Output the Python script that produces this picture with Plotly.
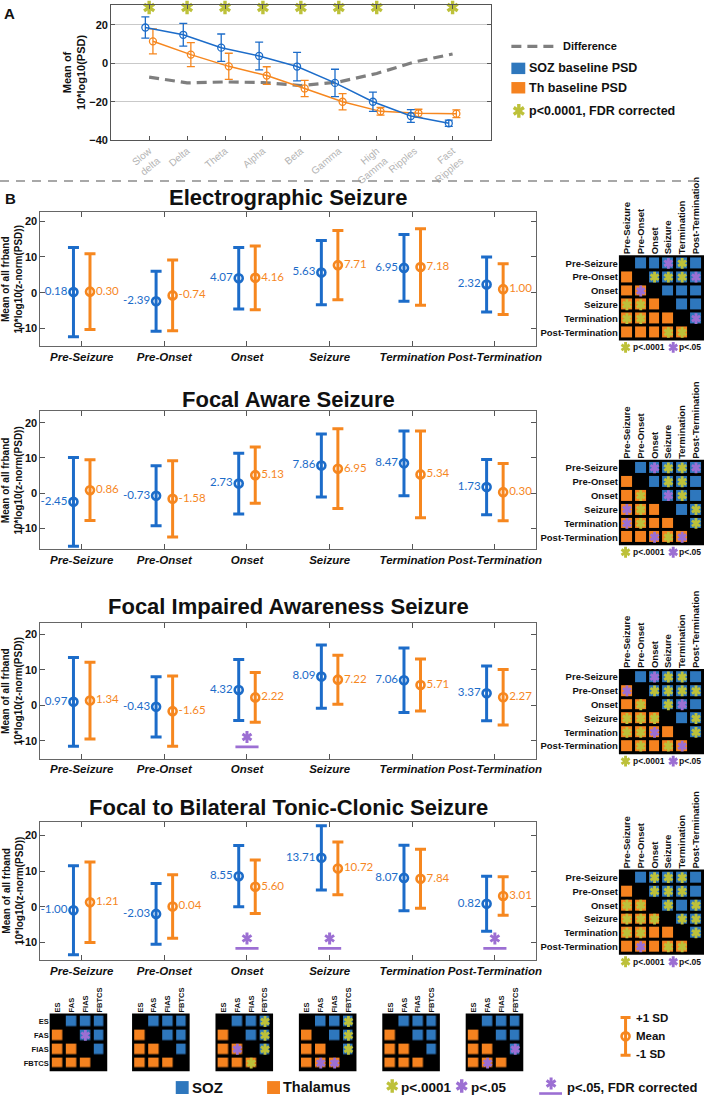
import plotly.graph_objects as go

W, H = 709, 1103

# ---------------- Panel A data ----------------
band_labels = ["Slow<br>delta", "Delta", "Theta", "Alpha", "Beta", "Gamma",
               "High<br>Gamma", "Ripples", "Fast<br>Ripples"]
soz_baseline_mean = [18.6, 14.8, 8.1, 3.8, -1.7, -10.2, -20.0, -27.4, -31.2]
soz_baseline_sd = [5.5, 5.9, 7.1, 7.2, 7.4, 7.1, 5.0, 3.3, 1.6]
th_baseline_mean = [11.4, 4.5, -1.6, -6.4, -13.1, -20.0, -25.0, -26.0, -26.2]
th_baseline_sd = [6.5, 6.2, 6.8, 4.6, 4.2, 4.2, 2.0, 2.1, 2.0]
baseline_difference = [-7.2, -10.2, -9.7, -10.0, -11.6, -9.7, -5.3, 0.7, 4.8]
band_fdr_sig = [1, 1, 1, 1, 1, 1, 1, 0, 1]

# ---------------- Panel B data ----------------
phases = ["Pre-Seizure", "Pre-Onset", "Onset", "Seizure", "Termination", "Post-Termination"]
seizure_titles = ["Electrographic Seizure", "Focal Aware Seizure",
                  "Focal Impaired Awareness Seizure", "Focal to Bilateral Tonic-Clonic Seizure"]

soz_mean_es = [0.18, -2.39, 4.07, 5.63, 6.95, 2.32]
soz_sd_es = [12.5, 8.4, 8.6, 9.0, 9.3, 7.7]
th_mean_es = [0.30, -0.74, 4.16, 7.71, 7.18, 1.00]
th_sd_es = [10.6, 9.9, 8.9, 9.7, 10.7, 7.1]

soz_mean_fas = [-2.45, -0.73, 2.73, 7.86, 8.47, 1.73]
soz_sd_fas = [12.6, 8.5, 8.6, 8.9, 9.2, 7.8]
th_mean_fas = [0.86, -1.58, 5.13, 6.95, 5.34, 0.30]
th_sd_fas = [8.6, 10.8, 8.0, 11.3, 12.3, 8.1]

soz_mean_fias = [0.97, -0.43, 4.32, 8.09, 7.06, 3.37]
soz_sd_fias = [12.5, 8.5, 8.6, 8.9, 9.1, 7.7]
th_mean_fias = [1.34, -1.65, 2.22, 7.22, 5.71, 2.27]
th_sd_fias = [10.8, 9.9, 7.0, 6.9, 7.3, 7.8]

soz_mean_fbtcs = [-1.00, -2.03, 8.55, 13.71, 8.07, 0.82]
soz_sd_fbtcs = [12.5, 8.5, 8.6, 9.0, 9.2, 7.7]
th_mean_fbtcs = [1.21, 0.04, 5.60, 10.72, 7.84, 3.01]
th_sd_fbtcs = [11.3, 8.9, 7.5, 7.4, 8.3, 5.4]

fdr_sig_es = []
fdr_sig_fas = []
fdr_sig_fias = ["Onset"]
fdr_sig_fbtcs = ["Onset", "Seizure", "Post-Termination"]

# Pairwise comparison matrices: upper triangle = SOZ (B), lower = Thalamus (O),
# '.' diagonal, suffix '*' = p<.0001, '+' = p<.05
phase_matrix_es = [". B B B+ B* B", "O . B* B* B* B+", "O O+ . B B B",
                   "O* O* O . B B", "O* O* O O . B+", "O O O O* O* ."]
phase_matrix_fas = [". B B+ B* B* B+", "O . B B* B* B", "O O* . B+ B* B",
                    "O+ O* O . B B*", "O+ O* O O . B*", "O O O+ O* O+ ."]
phase_matrix_fias = [". B B+ B* B* B", "O+ . B* B* B* B*", "O O* . B* B+ B",
                     "O* O* O* . B B*", "O* O* O+ O . B*", "O O* O O* O+ ."]
phase_matrix_fbtcs = [". B B* B* B* B", "O . B* B* B* B", "O* O* . B* B B*",
                      "O* O* O* . B* B*", "O* O* O O . B*", "O O+ O O* O* ."]

type_labels = ["ES", "FAS", "FIAS", "FBTCS"]
type_matrix_pre_seizure = [". B B B", "O . B+ B", "O O . B", "O O O ."]
type_matrix_pre_onset = [". B B B", "O . B B", "O O . B", "O O O ."]
type_matrix_onset = [". B B B*", "O . B B*", "O O+ . B*", "O O O* ."]
type_matrix_seizure = [". B B B*", "O . B B*", "O O . B*", "O O+ O+ ."]
type_matrix_termination = [". B B B", "O . B B", "O O . B", "O O O ."]
type_matrix_post_termination = [". B B B", "O . B B", "O O . B+", "O O+ O ."]

# ---------------- styles / layout constants ----------------
BLUE = '#1c6cc9'
ORANGE = '#f6871f'
SQ_BLUE = '#2e77bd'
SQ_ORANGE = '#f5821f'
YEL = '#bdc13a'
PUR = '#9c6fd3'
FONT = 'Liberation Sans, Arial, sans-serif'

A_X = (112, 494)
A_Y = (5, 141)
B_X = (40.7, 540)
B_Y = [(212.7, 348.3), (413.3, 552.3), (626.7, 762.7), (826, 965)]
B_YR = [(-15, 22.7), (-15.9, 23.3), (-15, 23.1), (-14.9, 23.9)]
TITLE_Y = [199, 402, 610, 812]
M6_X = (623.3, 709)
M6_Y = [(256.7, 342.3), (462.3, 548.3), (672.7, 758.3), (874.3, 960)]
M4_CX = [79, 162, 246, 330, 414, 498]
M4_HALF = 29
M4_Y = (1019, 1077)

STAR_BIG = (8.5, 3.4)     # size, line width
STAR_CELL = (6.8, 2.9)
STAR_FDR = (7.5, 3.0)


def dom_x(a, b):
    return [a / W, b / W]


def dom_y(top, bot):
    return [1 - bot / H, 1 - top / H]


fig = go.Figure()
lay = dict(width=W, height=H, margin=dict(l=0, r=0, t=0, b=0),
           paper_bgcolor='white', plot_bgcolor='rgba(0,0,0,0)', showlegend=False,
           font=dict(family=FONT, color='#111111'))
shapes = []
annos = []


def ref(i):
    return '' if i == 1 else str(i)


def add_star(xs, ys, color, style, ax):
    size, lw = style
    for sym in ('y-up', 'y-down'):
        fig.add_trace(go.Scatter(
            x=xs, y=ys, mode='markers', xaxis='x' + ref(ax), yaxis='y' + ref(ax),
            marker=dict(symbol=sym, size=size, color=color, line=dict(color=color, width=lw)),
            hoverinfo='skip', cliponaxis=False))


OV = 16  # overlay axis in pixel units


def text(x, y, s, size=11, color='#111', xanchor='left', bold=True, family=FONT, angle=0):
    annos.append(dict(x=x, y=y, xref='x16', yref='y16', text=s, showarrow=False,
                      xanchor=xanchor, yanchor='middle', textangle=angle, borderpad=0,
                      font=dict(size=size, color=color, family=family,
                                weight='bold' if bold else 'normal')))


# ================= Panel A =================
xs_band = list(range(1, len(band_labels) + 1))
fig.add_trace(go.Scatter(x=xs_band, y=baseline_difference, mode='lines', xaxis='x', yaxis='y',
                         line=dict(color='#7f7f7f', width=3.2, dash='10px,6px'), hoverinfo='skip'))
fig.add_trace(go.Scatter(x=[v + 0.1 for v in xs_band], y=th_baseline_mean, mode='lines+markers',
                         xaxis='x', yaxis='y', line=dict(color=ORANGE, width=1.5),
                         marker=dict(symbol='circle-open', size=7, color=ORANGE, line=dict(width=1.3, color=ORANGE)),
                         error_y=dict(type='data', array=th_baseline_sd, color=ORANGE, thickness=1.3, width=4),
                         hoverinfo='skip'))
fig.add_trace(go.Scatter(x=[v - 0.1 for v in xs_band], y=soz_baseline_mean, mode='lines+markers',
                         xaxis='x', yaxis='y', line=dict(color=BLUE, width=1.5),
                         marker=dict(symbol='circle-open', size=7, color=BLUE, line=dict(width=1.3, color=BLUE)),
                         error_y=dict(type='data', array=soz_baseline_sd, color=BLUE, thickness=1.3, width=4),
                         hoverinfo='skip'))
sig_x = [x for x, s in zip(xs_band, band_fdr_sig) if s]
add_star(sig_x, [29.0] * len(sig_x), YEL, STAR_BIG, 1)

lay['xaxis'] = dict(domain=dom_x(*A_X), range=[0, 10], tickvals=xs_band, ticktext=band_labels,
                    tickangle=-40, tickfont=dict(size=10, color='#b3b3b3', family=FONT),
                    ticks='inside', ticklen=4, tickcolor='#555', showline=True, linecolor='#555',
                    linewidth=1, mirror='ticks', showgrid=False, zeroline=False, anchor='y')
lay['yaxis'] = dict(domain=dom_y(*A_Y), range=[-40, 30.3], tickvals=[-40, -20, 0, 20],
                    ticks='inside', ticklen=4, tickcolor='#555', showline=True, linecolor='#555',
                    linewidth=1, mirror='ticks', showgrid=True, gridcolor='#c9c9c9', gridwidth=1,
                    zeroline=False, tickfont=dict(size=11, weight='bold', family=FONT), anchor='x')

# ================= Panel B plots =================
b_sets = [
    (soz_mean_es, soz_sd_es, th_mean_es, th_sd_es, fdr_sig_es),
    (soz_mean_fas, soz_sd_fas, th_mean_fas, th_sd_fas, fdr_sig_fas),
    (soz_mean_fias, soz_sd_fias, th_mean_fias, th_sd_fias, fdr_sig_fias),
    (soz_mean_fbtcs, soz_sd_fbtcs, th_mean_fbtcs, th_sd_fbtcs, fdr_sig_fbtcs),
]
xs_ph = list(range(1, len(phases) + 1))
for k, (sm, ssd, tm, tsd, fdr) in enumerate(b_sets):
    ax = 2 + k
    r = ref(ax)
    fig.add_trace(go.Scatter(
        x=[v - 0.1 for v in xs_ph], y=sm, mode='markers+text', xaxis='x' + r, yaxis='y' + r,
        text=[f"{v:.2f}" for v in sm], textposition='middle left',
        textfont=dict(family='Lato, Open Sans, sans-serif', size=11.5, color=BLUE),
        marker=dict(symbol='circle-open', size=8, color=BLUE, line=dict(width=2.6, color=BLUE)),
        error_y=dict(type='data', array=ssd, color=BLUE, thickness=3, width=5.5),
        hoverinfo='skip', cliponaxis=False))
    fig.add_trace(go.Scatter(
        x=[v + 0.1 for v in xs_ph], y=tm, mode='markers+text', xaxis='x' + r, yaxis='y' + r,
        text=[f"{v:.2f}" for v in tm], textposition='middle right',
        textfont=dict(family='Lato, Open Sans, sans-serif', size=11.5, color=ORANGE),
        marker=dict(symbol='circle-open', size=8, color=ORANGE, line=dict(width=2.6, color=ORANGE)),
        error_y=dict(type='data', array=tsd, color=ORANGE, thickness=3, width=5.5),
        hoverinfo='skip', cliponaxis=False))
    fx = [phases.index(p) + 1 for p in fdr]
    for x0 in fx:
        fig.add_trace(go.Scatter(x=[x0 - 0.14, x0 + 0.14], y=[-11.7, -11.7], mode='lines',
                                 xaxis='x' + r, yaxis='y' + r, line=dict(color=PUR, width=2.6),
                                 hoverinfo='skip'))
    if fx:
        add_star(fx, [-8.9] * len(fx), PUR, STAR_FDR, ax)

    lay['xaxis' + r] = dict(domain=dom_x(*B_X), range=[0.5, 6.5], tickvals=xs_ph, ticktext=phases,
                            tickangle=0,
                            tickfont=dict(size=11.5, weight='bold', style='italic', color='#111', family=FONT),
                            ticks='inside', ticklen=5, tickcolor='#555', showline=True, linecolor='#666',
                            linewidth=1, mirror='ticks', showgrid=False, zeroline=False, anchor='y' + r)
    lay['yaxis' + r] = dict(domain=dom_y(*B_Y[k]), range=list(B_YR[k]), tickvals=[-10, 0, 10, 20],
                            ticks='inside', ticklen=5, tickcolor='#555', showline=True, linecolor='#666',
                            linewidth=1, mirror='ticks', showgrid=False, zeroline=False,
                            tickfont=dict(size=11, weight='bold', family=FONT), anchor='x' + r)
    text((B_X[0] + B_X[1]) / 2, TITLE_Y[k], seizure_titles[k], size=22, xanchor='center')
    text(12.5, (B_Y[k][0] + B_Y[k][1]) / 2, "Mean of all frband<br>10*log10(z-norm(PSD))",
         size=10, xanchor='center', angle=-90)


# ================= Matrices =================
def add_matrix(ax, rows, labels, xdom, ydom, gap, lab_size, show_rows):
    r = ref(ax)
    n = len(rows)
    cells = [row.split() for row in rows]
    z = []
    ystar, pstar = [], []
    for i, row in enumerate(cells):
        zr = []
        for j, c in enumerate(row):
            if c[0] == 'B':
                zr.append(1)
            elif c[0] == 'O':
                zr.append(2)
            else:
                zr.append(None)
            if c.endswith('*'):
                ystar.append((j, i))
            elif c.endswith('+'):
                pstar.append((j, i))
        z.append(zr)
    fig.add_trace(go.Heatmap(z=z, x=list(range(n)), y=list(range(n)), xaxis='x' + r, yaxis='y' + r,
                             colorscale=[[0, SQ_BLUE], [0.5, SQ_BLUE], [0.5, SQ_ORANGE], [1, SQ_ORANGE]],
                             zmin=1, zmax=2, showscale=False, xgap=gap, ygap=gap, hoverinfo='skip'))
    if ystar:
        add_star([p[0] for p in ystar], [p[1] for p in ystar], YEL, STAR_CELL, ax)
    if pstar:
        add_star([p[0] for p in pstar], [p[1] for p in pstar], PUR, STAR_CELL, ax)
    pad = 0.08
    lay['xaxis' + r] = dict(domain=xdom, range=[-0.5 - pad, n - 0.5 + pad], side='top',
                            tickvals=list(range(n)), ticktext=labels, tickangle=-90,
                            tickfont=dict(size=lab_size, weight='bold', family=FONT, color='#111'),
                            ticks='', showline=False, showgrid=False, zeroline=False,
                            anchor='y' + r, fixedrange=True)
    lay['yaxis' + r] = dict(domain=ydom, range=[n - 0.5 + pad, -0.5 - pad],
                            tickvals=list(range(n)), ticktext=labels, showticklabels=show_rows,
                            tickfont=dict(size=lab_size, weight='bold', family=FONT, color='#111'),
                            ticks='', showline=False, showgrid=False, zeroline=False,
                            anchor='x' + r, fixedrange=True)
    shapes.append(dict(type='rect', xref='x' + r + ' domain', yref='y' + r + ' domain',
                       x0=0, x1=1, y0=0, y1=1, fillcolor='black', line=dict(width=0), layer='below'))


phase_mats = [phase_matrix_es, phase_matrix_fas, phase_matrix_fias, phase_matrix_fbtcs]
for k, m in enumerate(phase_mats):
    add_matrix(6 + k, m, phases, dom_x(*M6_X), dom_y(*M6_Y[k]), 3, 9.5, True)
    yb = M6_Y[k][1] + 7
    add_star([630], [yb], YEL, STAR_CELL, OV)
    text(636, yb, "p<.0001", size=8.5)
    add_star([678], [yb], PUR, STAR_CELL, OV)
    text(683, yb, "p<.05", size=8.5)

type_mats = [type_matrix_pre_seizure, type_matrix_pre_onset, type_matrix_onset,
             type_matrix_seizure, type_matrix_termination, type_matrix_post_termination]
for k, m in enumerate(type_mats):
    cx = M4_CX[k]
    add_matrix(10 + k, m, type_labels, dom_x(cx - M4_HALF, cx + M4_HALF), dom_y(*M4_Y),
               3.5, 7.5, k == 0)

# ================= overlay axis: legends, labels, separators =================
lay['xaxis16'] = dict(domain=[0, 1], range=[0, W], visible=False, anchor='y16', fixedrange=True)
lay['yaxis16'] = dict(domain=[0, 1], range=[H, 0], visible=False, anchor='x16', fixedrange=True)

text(3, 14, "A", size=15)
text(4, 200, "B", size=15)
text(74, 72, "Mean of<br>10*log10(PSD)", size=11, xanchor='center', angle=-90)
shapes.append(dict(type='line', xref='x16', yref='y16', x0=0, x1=W, y0=182, y1=182,
                   line=dict(color='#8c8c8c', width=1.6, dash='9px,7px')))

# Panel A legend
shapes.append(dict(type='line', xref='x16', yref='y16', x0=515, x1=560, y0=46.7, y1=46.7,
                   line=dict(color='#7f7f7f', width=3.2, dash='10px,6px')))
text(566, 46.7, "Difference", size=11)
shapes.append(dict(type='rect', xref='x16', yref='y16', x0=515, x1=529, y0=63, y1=74.5,
                   fillcolor=SQ_BLUE, line=dict(width=0)))
text(532, 68.7, "SOZ baseline PSD", size=12.5)
shapes.append(dict(type='rect', xref='x16', yref='y16', x0=515, x1=529, y0=82.5, y1=94,
                   fillcolor=SQ_ORANGE, line=dict(width=0)))
text(532, 88, "Th baseline PSD", size=12.5)
add_star([522.5], [111.5], YEL, STAR_BIG, OV)
text(532, 111.5, "p<0.0001, FDR corrected", size=12.5)

# error bar legend
fig.add_trace(go.Scatter(x=[630], y=[1042], mode='markers', xaxis='x16', yaxis='y16',
                         marker=dict(symbol='circle-open', size=8, color=ORANGE, line=dict(width=2.6, color=ORANGE)),
                         error_y=dict(type='data', array=[19], color=ORANGE, thickness=3, width=5),
                         hoverinfo='skip', cliponaxis=False))
text(640, 1024, "+1 SD", size=11.5)
text(640, 1042, "Mean", size=11.5)
text(640, 1060, "-1 SD", size=11.5)

# bottom legend
shapes.append(dict(type='rect', xref='x16', yref='y16', x0=177, x1=190, y0=1087, y1=1100,
                   fillcolor=SQ_BLUE, line=dict(width=0)))
text(192, 1093, "SOZ", size=15)
shapes.append(dict(type='rect', xref='x16', yref='y16', x0=269, x1=282, y0=1087, y1=1100,
                   fillcolor=SQ_ORANGE, line=dict(width=0)))
text(284, 1093, "Thalamus", size=14.5)
add_star([395], [1092], YEL, STAR_BIG, OV)
text(403, 1093, "p<.0001", size=13.5)
add_star([465], [1092], PUR, STAR_BIG, OV)
text(473, 1093, "p<.05", size=13.5)
add_star([555], [1089.5], PUR, STAR_FDR, OV)
shapes.append(dict(type='line', xref='x16', yref='y16', x0=543, x1=566, y0=1099.5, y1=1099.5,
                   line=dict(color=PUR, width=2.6)))
text(570, 1093, "p<.05, FDR corrected", size=13)

lay['shapes'] = shapes
lay['annotations'] = annos
fig.update_layout(**lay)
fig.write_html("out.html", config={'displayModeBar': False},
               post_script="document.body.style.margin='0px';document.body.style.overflow='hidden';")
